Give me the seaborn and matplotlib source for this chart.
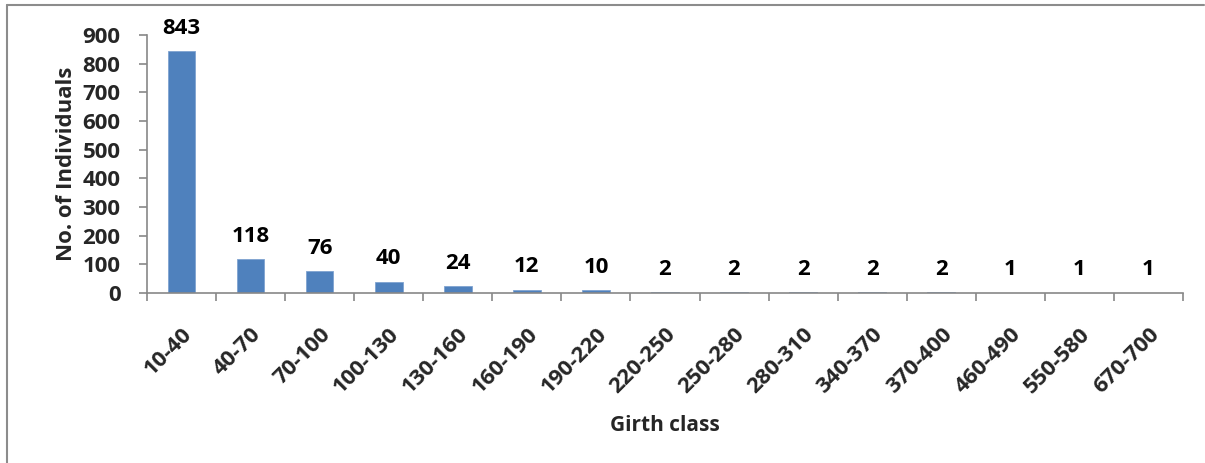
import matplotlib
matplotlib.use("Agg")
import matplotlib.pyplot as plt
from matplotlib.lines import Line2D
import seaborn as sns
import pandas as pd

girth_classes = ["10-40", "40-70", "70-100", "100-130", "130-160", "160-190",
                 "190-220", "220-250", "250-280", "280-310", "340-370",
                 "370-400", "460-490", "550-580", "670-700"]
individuals = [843, 118, 76, 40, 24, 12, 10, 2, 2, 2, 2, 2, 1, 1, 1]
y_ticks = [0, 100, 200, 300, 400, 500, 600, 700, 800, 900]

sns.set_theme(style="white")
plt.rcParams["font.family"] = ["Open Sans", "DejaVu Sans"]
plt.rcParams["font.weight"] = "bold"

df = pd.DataFrame({"Girth class": girth_classes, "No. of Individuals": individuals})

fig = plt.figure(figsize=(12.05, 4.63), dpi=100)
ax = fig.add_axes([0.122, 0.3672, 0.8597, 0.5572])

sns.barplot(data=df, x="Girth class", y="No. of Individuals", ax=ax,
            color="#4F81BD", saturation=1, width=0.4, edgecolor="#7FA3D0",
            linewidth=0.6)

axis_grey = "#888888"
ax.set_xlim(-0.5, len(girth_classes) - 0.5)
ax.set_ylim(0, 900)
ax.set_yticks(y_ticks)
ax.set_yticklabels([str(v) for v in y_ticks], fontsize=16, fontweight="bold")

# category boundaries carry the tick marks, labels sit at bar centres
ax.set_xticks([i for i in range(len(girth_classes))])
ax.set_xticklabels(girth_classes, rotation=45, ha="right",
                   rotation_mode="anchor", fontsize=16, fontweight="bold")
ax.tick_params(axis="x", length=0, pad=22)
ax.set_xticks([i - 0.5 for i in range(len(girth_classes) + 1)], minor=True)
ax.tick_params(axis="x", which="minor", length=6, width=1.2, color=axis_grey,
               direction="out", bottom=True)
ax.tick_params(axis="y", length=6, width=1.2, color=axis_grey,
               direction="out", left=True, pad=13)

for side in ("top", "right"):
    ax.spines[side].set_visible(False)
for side in ("left", "bottom"):
    ax.spines[side].set_color(axis_grey)
    ax.spines[side].set_linewidth(1.2)

for i, v in enumerate(individuals):
    ax.annotate(str(v), (i, v), xytext=(0, 9), textcoords="offset points",
                ha="center", va="bottom", fontsize=16, fontweight="bold",
                color="black", annotation_clip=False)

ax.set_xlabel("Girth class", fontsize=15, fontweight="bold", labelpad=13)
ax.set_ylabel("No. of Individuals", fontsize=16, fontweight="bold", labelpad=4)

# chart frame along the top and left edges
fig.add_artist(Line2D([0.0055, 0.9995], [0.9885, 0.9885], transform=fig.transFigure,
                      color="#8c8c8c", linewidth=1.5))
fig.add_artist(Line2D([0.0055, 0.0055], [0.0, 0.9885], transform=fig.transFigure,
                      color="#8c8c8c", linewidth=1.5))

fig.savefig("out.png", dpi=100)
